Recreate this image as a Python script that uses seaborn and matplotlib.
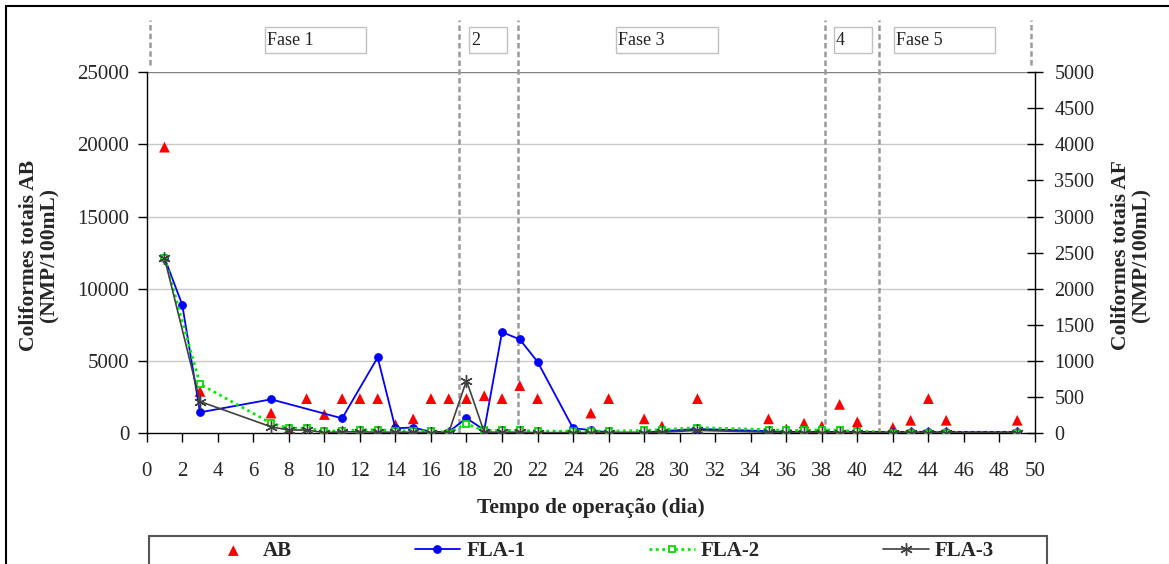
import numpy as np
import pandas as pd
import matplotlib
matplotlib.use("Agg")
import matplotlib.pyplot as plt
from matplotlib.patches import Rectangle
import seaborn as sns

# ---------------- data ----------------
ab_days = [1, 3, 7, 8, 9, 10, 11, 12, 13, 14, 15, 16, 17, 18, 19, 20, 21, 22, 25, 26,
           28, 29, 31, 35, 36, 37, 38, 39, 40, 42, 43, 44, 45, 49]
ab_vals = [19800, 2900, 1400, 300, 2400, 1300, 2400, 2400, 2400, 600, 1000, 2400, 2400, 2400,
           2600, 2400, 3300, 2400, 1400, 2400, 1000, 500, 2400, 1000, 300, 700, 500, 2000,
           800, 400, 900, 2400, 900, 900]

fla1_days = [1, 2, 3, 7, 11, 13, 14, 15, 16, 17, 18, 19, 20, 21, 22, 24, 25, 26, 28, 29,
             31, 35, 36, 37, 38, 39, 40, 42, 43, 44, 45, 49]
fla1_vals = [2430, 1780, 290, 470, 207, 1050, 70, 80, 20, 20, 210, 45, 1400, 1300, 990, 70,
             45, 10, 10, 30, 60, 30, 20, 20, 20, 20, 20, 20, 20, 20, 20, 20]

fla_days = [1, 3, 7, 8, 9, 10, 11, 12, 13, 14, 15, 16, 17, 18, 19, 20, 21, 22, 24, 25, 26,
            28, 29, 31, 35, 36, 37, 38, 39, 40, 42, 43, 44, 45, 49]
fla2_vals = [2430, 680, 140, 70, 70, 30, 35, 45, 50, 35, 30, 35, 10, 130, 40, 40, 40, 30, 30,
             30, 30, 40, 50, 80, 50, 40, 40, 50, 40, 30, 10, 10, 10, 10, 10]
fla3_vals = [2430, 440, 90, 45, 45, 10, 20, 20, 15, 15, 15, 10, 10, 730, 15, 15, 15, 10, 10,
             10, 10, 10, 15, 40, 15, 10, 10, 10, 10, 10, 10, 10, 10, 10, 10]

phase_bounds = [17.6, 20.9, 38.2, 41.2]
phase_edges = [0.2, 49.75]
phase_labels = ["Fase 1", "2", "Fase 3", "4", "Fase 5"]
x_ticks = list(range(0, 51, 2))
left_ticks = [0, 5000, 10000, 15000, 20000, 25000]
right_ticks = list(range(0, 5001, 500))

# ---------------- style ----------------
sns.set_theme(style="white")
plt.rcParams["font.family"] = ["Liberation Serif", "DejaVu Serif"]
plt.rcParams["axes.unicode_minus"] = False

W, H = 1169, 564
fig = plt.figure(figsize=(W / 100, H / 100), dpi=100)
fig.patch.set_facecolor("white")

def fx(px):
    return px / W

def fy(py):
    return 1 - py / H

L, R, T, B = 146.7, 1035, 72, 433.3
ax = fig.add_axes([fx(L), fy(B), fx(R) - fx(L), fy(T) - fy(B)])
ax2 = ax.twinx()

# AB on left axis
sns.scatterplot(x=ab_days, y=ab_vals, ax=ax, marker="^", color="#FF0000", s=60,
                edgecolor="none", label="AB", legend=False, zorder=3)

# FLA series on right axis
sns.lineplot(x=fla1_days, y=fla1_vals, ax=ax2, color="#0000FF", linewidth=1.3,
             marker="o", markersize=5.5, markeredgecolor="#0000FF",
             markerfacecolor="#0000FF", label="FLA-1", legend=False, zorder=3)
sns.lineplot(x=fla_days, y=fla2_vals, ax=ax2, color="#00EE00", linewidth=2.0,
             linestyle=(0, (1, 1.3)), marker="s", markersize=5,
             markeredgecolor="#00DD00", markerfacecolor="white", markeredgewidth=1.3,
             label="FLA-2", legend=False, zorder=4)
sns.lineplot(x=fla_days, y=fla3_vals, ax=ax2, color="#404040", linewidth=1.2,
             marker=(6, 2, 0), markersize=9, markeredgecolor="#404040",
             markeredgewidth=1.0, label="FLA-3", legend=False, zorder=5)

ax.set_xlim(0, 50)
ax.set_ylim(0, 25000)
ax2.set_ylim(0, 5000)
ax.set_xticks(x_ticks)
ax.set_xticklabels([str(t) for t in x_ticks])
ax.set_yticks(left_ticks)
ax.set_yticklabels([str(t) for t in left_ticks])
ax2.set_yticks(right_ticks)
ax2.set_yticklabels([str(t) for t in right_ticks])

# grid
for v in left_ticks[1:-1]:
    ax.axhline(v, color="#C8C8C8", linewidth=1.0, zorder=0)
ax.axhline(25000, color="#808080", linewidth=1.0, zorder=0)
ax.grid(False)
ax2.grid(False)

for a in (ax, ax2):
    a.set_facecolor("none")
    a.spines["top"].set_visible(False)
ax.spines["right"].set_visible(False)
ax2.spines["left"].set_visible(False)
ax2.spines["bottom"].set_visible(False)
ax.spines["left"].set_color("black")
ax.spines["bottom"].set_color("black")
ax2.spines["right"].set_color("black")
for sp in (ax.spines["left"], ax.spines["bottom"], ax2.spines["right"]):
    sp.set_linewidth(1.0)

ax.tick_params(axis="x", direction="out", length=6.5, width=1, color="black",
               labelsize=15, pad=14, bottom=True)
ax.tick_params(axis="y", direction="out", length=6.5, width=1, color="black",
               labelsize=15, pad=6, left=True)
ax2.tick_params(axis="y", direction="inout", length=12, width=1, color="black",
                labelsize=14.5, pad=8, right=True)
ax.set_xlabel("")
ax.set_ylabel("")
ax2.set_ylabel("")

# phase dashed lines
top_ax = (B - 20) / (B - T)
edge_low = (B - 65) / (B - T)
dash = (0, (2.2, 1.3))
for xb in phase_bounds:
    ax.plot([xb, xb], [0, top_ax], transform=ax.get_xaxis_transform(), color="#9A9A9A",
            linewidth=1.8, linestyle=dash, clip_on=False, zorder=2)
for xb in phase_edges:
    ax.plot([xb, xb], [edge_low, top_ax], transform=ax.get_xaxis_transform(), color="#9A9A9A",
            linewidth=1.8, linestyle=dash, clip_on=False, zorder=2)

# phase boxes
boxes = [(265, 366), (469, 507), (616, 718), (834, 872), (894, 995)]
for (x0, x1), lab in zip(boxes, phase_labels):
    fig.add_artist(Rectangle((fx(x0), fy(53)), fx(x1) - fx(x0), fy(27) - fy(53),
                             transform=fig.transFigure, facecolor="white",
                             edgecolor="#C0C0C0", linewidth=1.0))
    fig.text(fx(x0 + 2), fy(40.5), lab, fontsize=13, ha="left", va="center",
             color="#222222")

# axis titles
fig.text(fx(591), fy(508), "Tempo de operação (dia)", fontsize=15.5, fontweight="bold",
         ha="center", va="center")
fig.text(fx(39), fy(255), "Coliformes totais AB\n(NMP/100mL)", fontsize=15.5,
         fontweight="bold", rotation=90, ha="center", va="center",
         multialignment="center", linespacing=1.05)
fig.text(fx(1131), fy(255), "Coliformes totais AF\n(NMP/100mL)", fontsize=15.5,
         fontweight="bold", rotation=90, ha="center", va="center",
         multialignment="center", linespacing=1.05)

# legend
h1, l1 = ax.get_legend_handles_labels()
h2, l2 = ax2.get_legend_handles_labels()
leg = fig.legend(h1 + h2, l1 + l2, loc="center left", bbox_to_anchor=(fx(200), fy(551)),
                 ncol=4, frameon=False, handlelength=2.2, handletextpad=0.3,
                 columnspacing=5.9, borderpad=0, scatterpoints=1,
                 prop={"family": "Liberation Serif", "weight": "bold", "size": 15})
fig.add_artist(Rectangle((fx(149), fy(600)), fx(1047) - fx(149), fy(536) - fy(600),
                         transform=fig.transFigure, facecolor="none",
                         edgecolor="#555555", linewidth=1.5))

# outer chart border
fig.add_artist(Rectangle((fx(6), fy(600)), fx(1200) - fx(6), fy(6) - fy(600),
                         transform=fig.transFigure, facecolor="none",
                         edgecolor="black", linewidth=1.5))

fig.savefig("out.png", dpi=100, facecolor="white")
